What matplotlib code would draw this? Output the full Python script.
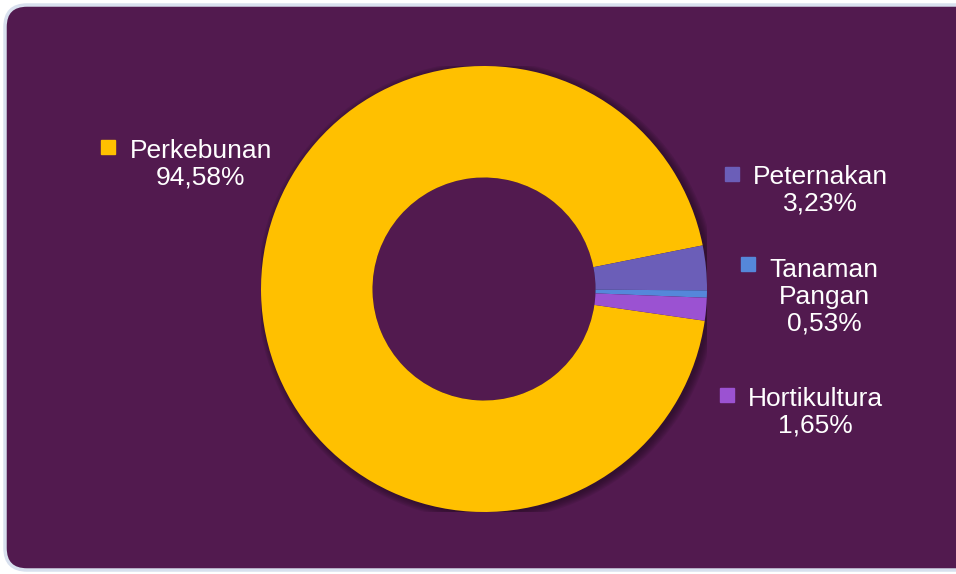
import matplotlib.pyplot as plt
from matplotlib.patches import FancyBboxPatch, Circle

# data
categories = ["Perkebunan", "Peternakan", "Tanaman\nPangan", "Hortikultura"]
shares = [94.58, 3.23, 0.53, 1.65]
colors = ["#FFC000", "#6B5EB8", "#5587DA", "#9B52D2"]

W, H = 956, 574
bg = "#521A4F"

fig = plt.figure(figsize=(W / 100, H / 100), dpi=100)
fig.patch.set_facecolor("white")

# overlay axes in pixel coordinates (y down) for background and labels
ax_bg = fig.add_axes([0, 0, 1, 1])
ax_bg.set_xlim(0, W)
ax_bg.set_ylim(H, 0)
ax_bg.axis("off")
ax_bg.add_patch(FancyBboxPatch((5, 5), W + 20, H - 9,
                               boxstyle="round,pad=0,rounding_size=22",
                               facecolor=bg, edgecolor="#D8E0EE", linewidth=2.5))

# donut
cx, cy, r = 484, 289, 223
ax = fig.add_axes([(cx - r) / W, (H - cy - r) / H, 2 * r / W, 2 * r / H])
ax.set_zorder(2)
# soft shadow behind the ring
for i in range(6):
    ax.add_patch(Circle((0.012, -0.008), 1 + 0.006 * i, facecolor="#1E0A1C",
                        alpha=0.12, linewidth=0, zorder=0))
ax.pie(shares, colors=colors, startangle=-8.2, counterclock=False, radius=1,
       wedgeprops=dict(width=0.5, linewidth=0, zorder=1))
ax.add_patch(Circle((0, 0), 0.5, facecolor=bg, linewidth=0, zorder=0.5))
ax.set_xlim(-1, 1)
ax.set_ylim(-1, 1)
ax.set_aspect("equal")
ax.axis("off")

# labels: (text center x, text center y, marker x, marker y)
label_pos = [(201, 164, 108, 147),
             (820, 190, 732, 174),
             (824, 297, 748, 264),
             (815, 412, 727, 395)]
for name, val, col, (tx, ty, mx, my) in zip(categories, shares, colors, label_pos):
    txt = f"{name}\n{val:.2f}%".replace(".", ",")
    ax_bg.text(tx, ty, txt, ha="center", va="center", color="white",
               fontsize=19, family="Liberation Sans", linespacing=1.15,
               multialignment="center")
    ax_bg.plot(mx, my, marker="s", markersize=10, color=col, linestyle="none")

fig.savefig("out.png", dpi=100, facecolor=fig.get_facecolor())
